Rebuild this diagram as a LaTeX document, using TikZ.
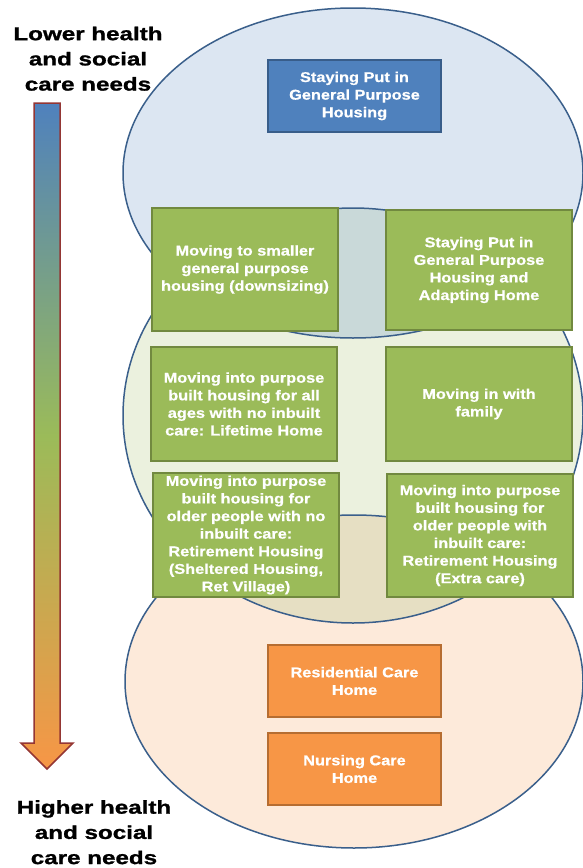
\documentclass[tikz,border=0pt]{standalone}
\usepackage{fontspec}
\usepackage{xcolor}
\usepackage{tikz}
\newfontfamily\boxfont[FakeStretch=1.15,FakeBold=0.7]{Liberation Sans Bold}
\newfontfamily\headfont[FakeStretch=1.3,FakeBold=1.2]{Liberation Sans Bold}
\definecolor{edge}{HTML}{3A5F8B}
\definecolor{topFill}{HTML}{DCE6F2}
\definecolor{midFill}{HTML}{EBF1DE}
\definecolor{lowFill}{HTML}{FDEADA}
\definecolor{topMid}{HTML}{C9D9D9}
\definecolor{midLow}{HTML}{E6DFC3}
\definecolor{blueBg}{HTML}{4F81BD}
\definecolor{blueEdge}{HTML}{385D8A}
\definecolor{greenBg}{HTML}{9BBB59}
\definecolor{greenEdge}{HTML}{71893F}
\definecolor{orangeBg}{HTML}{F79646}
\definecolor{orangeEdge}{HTML}{B66D31}
\definecolor{arrowEdge}{HTML}{943634}
\tikzset{
  needOval/.style={draw=edge, line width=1.5pt},
  careBox/.style={line width=2pt, inner sep=1pt, align=center, text=white,
    font=\boxfont\fontsize{14.2}{17.6}\selectfont},
  blueBox/.style={careBox, fill=blueBg, draw=blueEdge, minimum width=173, minimum height=72},
  greenBox/.style={careBox, fill=greenBg, draw=greenEdge, minimum width=186},
  orangeBox/.style={careBox, fill=orangeBg, draw=orangeEdge, minimum width=173, minimum height=72},
  headText/.style={anchor=north, inner sep=0pt, align=center,
    font=\headfont\fontsize{18.6}{25.2}\selectfont}
}
\begin{document}
\begin{tikzpicture}[x=1pt, y=-1pt]
  \useasboundingbox (0,0) rectangle (583,868);

  \coordinate (topC) at (353,173);
  \coordinate (midC) at (353,415.5);
  \coordinate (lowC) at (354,681.5);

  % ovals and their overlaps
  \fill[topFill] (topC) ellipse [x radius=230, y radius=165];
  \fill[midFill] (midC) ellipse [x radius=230, y radius=207.5];
  \fill[lowFill] (lowC) ellipse [x radius=229, y radius=166.5];
  \begin{scope}
    \clip (topC) ellipse [x radius=230, y radius=165];
    \fill[topMid] (midC) ellipse [x radius=230, y radius=207.5];
  \end{scope}
  \begin{scope}
    \clip (midC) ellipse [x radius=230, y radius=207.5];
    \fill[midLow] (lowC) ellipse [x radius=229, y radius=166.5];
  \end{scope}
  \draw[needOval] (topC) ellipse [x radius=230, y radius=165];
  \draw[needOval] (midC) ellipse [x radius=230, y radius=207.5];
  \draw[needOval] (lowC) ellipse [x radius=229, y radius=166.5];

  % housing options
  \node[blueBox] (stayPut) at (354.5,96) {Staying Put in\\General Purpose\\Housing};

  \node[greenBox, minimum height=123] (downsize) at (245,269.5) {Moving to smaller\\general purpose\\housing (downsizing)};
  \node[greenBox, minimum height=120] (adapt) at (479,270) {Staying Put in\\General Purpose\\Housing and\\Adapting Home};
  \node[greenBox, minimum height=114] (lifetime) at (244,404) {Moving into purpose\\built housing for all\\ages with no inbuilt\\care: Lifetime Home};
  \node[greenBox, minimum height=114] (family) at (479,404) {Moving in with\\family};
  \node[greenBox, minimum height=124] (sheltered) at (246,535) {Moving into purpose\\built housing for\\older people with no\\inbuilt care:\\Retirement Housing\\(Sheltered Housing,\\Ret Village)};
  \node[greenBox, minimum height=123] (extraCare) at (480,535.5) {Moving into purpose\\built housing for\\older people with\\inbuilt care:\\Retirement Housing\\(Extra care)};

  \node[orangeBox] (residential) at (354.5,681) {Residential Care\\Home};
  \node[orangeBox] (nursing) at (354.5,769) {Nursing Care\\Home};

  % needs scale
  \draw[arrowEdge, line width=1.5pt, top color=blueBg, bottom color=orangeBg, middle color=greenBg]
    (34,103) -- (60,103) -- (60,743) -- (73,743) -- (47,769) -- (21,743) -- (34,743) -- cycle;

  \node[headText] (lower) at (88,26.5) {Lower health\\and social\\care needs};
  \node[headText] (higher) at (94,800) {Higher health\\and social\\care needs};
\end{tikzpicture}
\end{document}
